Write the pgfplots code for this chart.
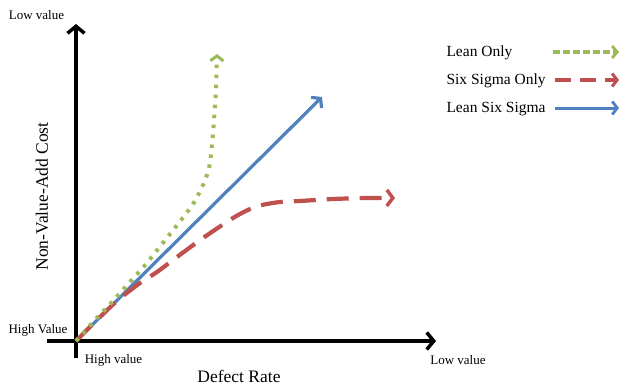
\documentclass[border=0pt]{standalone}
\usepackage{pgfplots}
\pgfplotsset{compat=1.18}
\usepackage{fontspec}
\setmainfont{Liberation Serif}
\usetikzlibrary{arrows.meta}
\definecolor{cgreen}{RGB}{155,187,89}
\definecolor{cred}{RGB}{192,80,77}
\definecolor{cblue}{RGB}{79,129,189}
\begin{document}
\begin{tikzpicture}[x=1bp,y=1bp]
\begin{axis}[
  x=1bp, y=1bp,
  xmin=0, xmax=634, ymin=0, ymax=389,
  axis lines=none, clip=false,
  anchor=origin, at={(0,0)},
  scale only axis,
]
% frame to fix picture size
\addplot[draw=none] coordinates {(0,0) (634,389)};
% axes
\addplot[black, line width=3.5bp, -{Straight Barb[length=7bp,width=17bp,line width=3.5bp]}] coordinates {(76,31) (76,365)};
\addplot[black, line width=3.5bp, -{Straight Barb[length=7bp,width=17bp,line width=3.5bp]}] coordinates {(47,48) (436,48)};
% Lean Six Sigma
\addplot[cblue, line width=3.2bp, -{Straight Barb[length=6bp,width=15bp,line width=3.2bp]}] coordinates {(76,48) (322,292)};
% Six Sigma Only
\addplot[cred, line width=4.2bp, dash pattern=on 22bp off 11bp, smooth, tension=0.5, -{Straight Barb[length=6bp,width=16bp,line width=3.5bp]}] coordinates {(76,48) (100,72) (118,89) (140,106) (157,117) (177,132) (203,151) (233,171) (250,180) (262,184) (280,187) (300,188) (333,190) (367,191) (395,191)};
% Lean Only
\addplot[cgreen, line width=4bp, dash pattern=on 3.5bp off 6.5bp, smooth, tension=0.5, -{Straight Barb[length=5bp,width=13bp,line width=3bp]}] coordinates {(76,48) (95,69) (112,87) (129,106) (146,125) (162,145) (178,165) (193,185) (203,204) (209,221) (212,244) (214,269) (216,299) (217,335)};
% legend lines
\addplot[cgreen, line width=3.5bp, dash pattern=on 7bp off 3bp, -{Straight Barb[length=5bp,width=12bp,line width=2.8bp]}] coordinates {(553,337) (619,337)};
\addplot[cred, line width=4bp, dash pattern=on 16bp off 9bp, -{Straight Barb[length=5bp,width=13bp,line width=3bp]}] coordinates {(555,309) (619,309)};
\addplot[cblue, line width=3bp, -{Straight Barb[length=5bp,width=13bp,line width=2.8bp]}] coordinates {(555,281) (619,281)};
% texts
\node[font=\fontsize{15.5bp}{18bp}\selectfont, anchor=west] at (axis cs:443,336) {Lean Only};
\node[font=\fontsize{15.5bp}{18bp}\selectfont, anchor=west] at (axis cs:443,308) {Six Sigma Only};
\node[font=\fontsize{15.5bp}{18bp}\selectfont, anchor=west] at (axis cs:443,280) {Lean Six Sigma};
\node[font=\fontsize{13bp}{15bp}\selectfont] at (axis cs:36.5,374) {Low value};
\node[font=\fontsize{13bp}{15bp}\selectfont] at (axis cs:38,59) {High Value};
\node[font=\fontsize{13bp}{15bp}\selectfont] at (axis cs:113.5,29) {High value};
\node[font=\fontsize{13bp}{15bp}\selectfont] at (axis cs:458,29) {Low value};
\node[font=\fontsize{17.5bp}{20bp}\selectfont] at (axis cs:239,13) {Defect Rate};
\node[font=\fontsize{17.5bp}{20bp}\selectfont, rotate=90] at (axis cs:42,192.5) {Non-Value-Add Cost};
\end{axis}
\end{tikzpicture}
\end{document}
